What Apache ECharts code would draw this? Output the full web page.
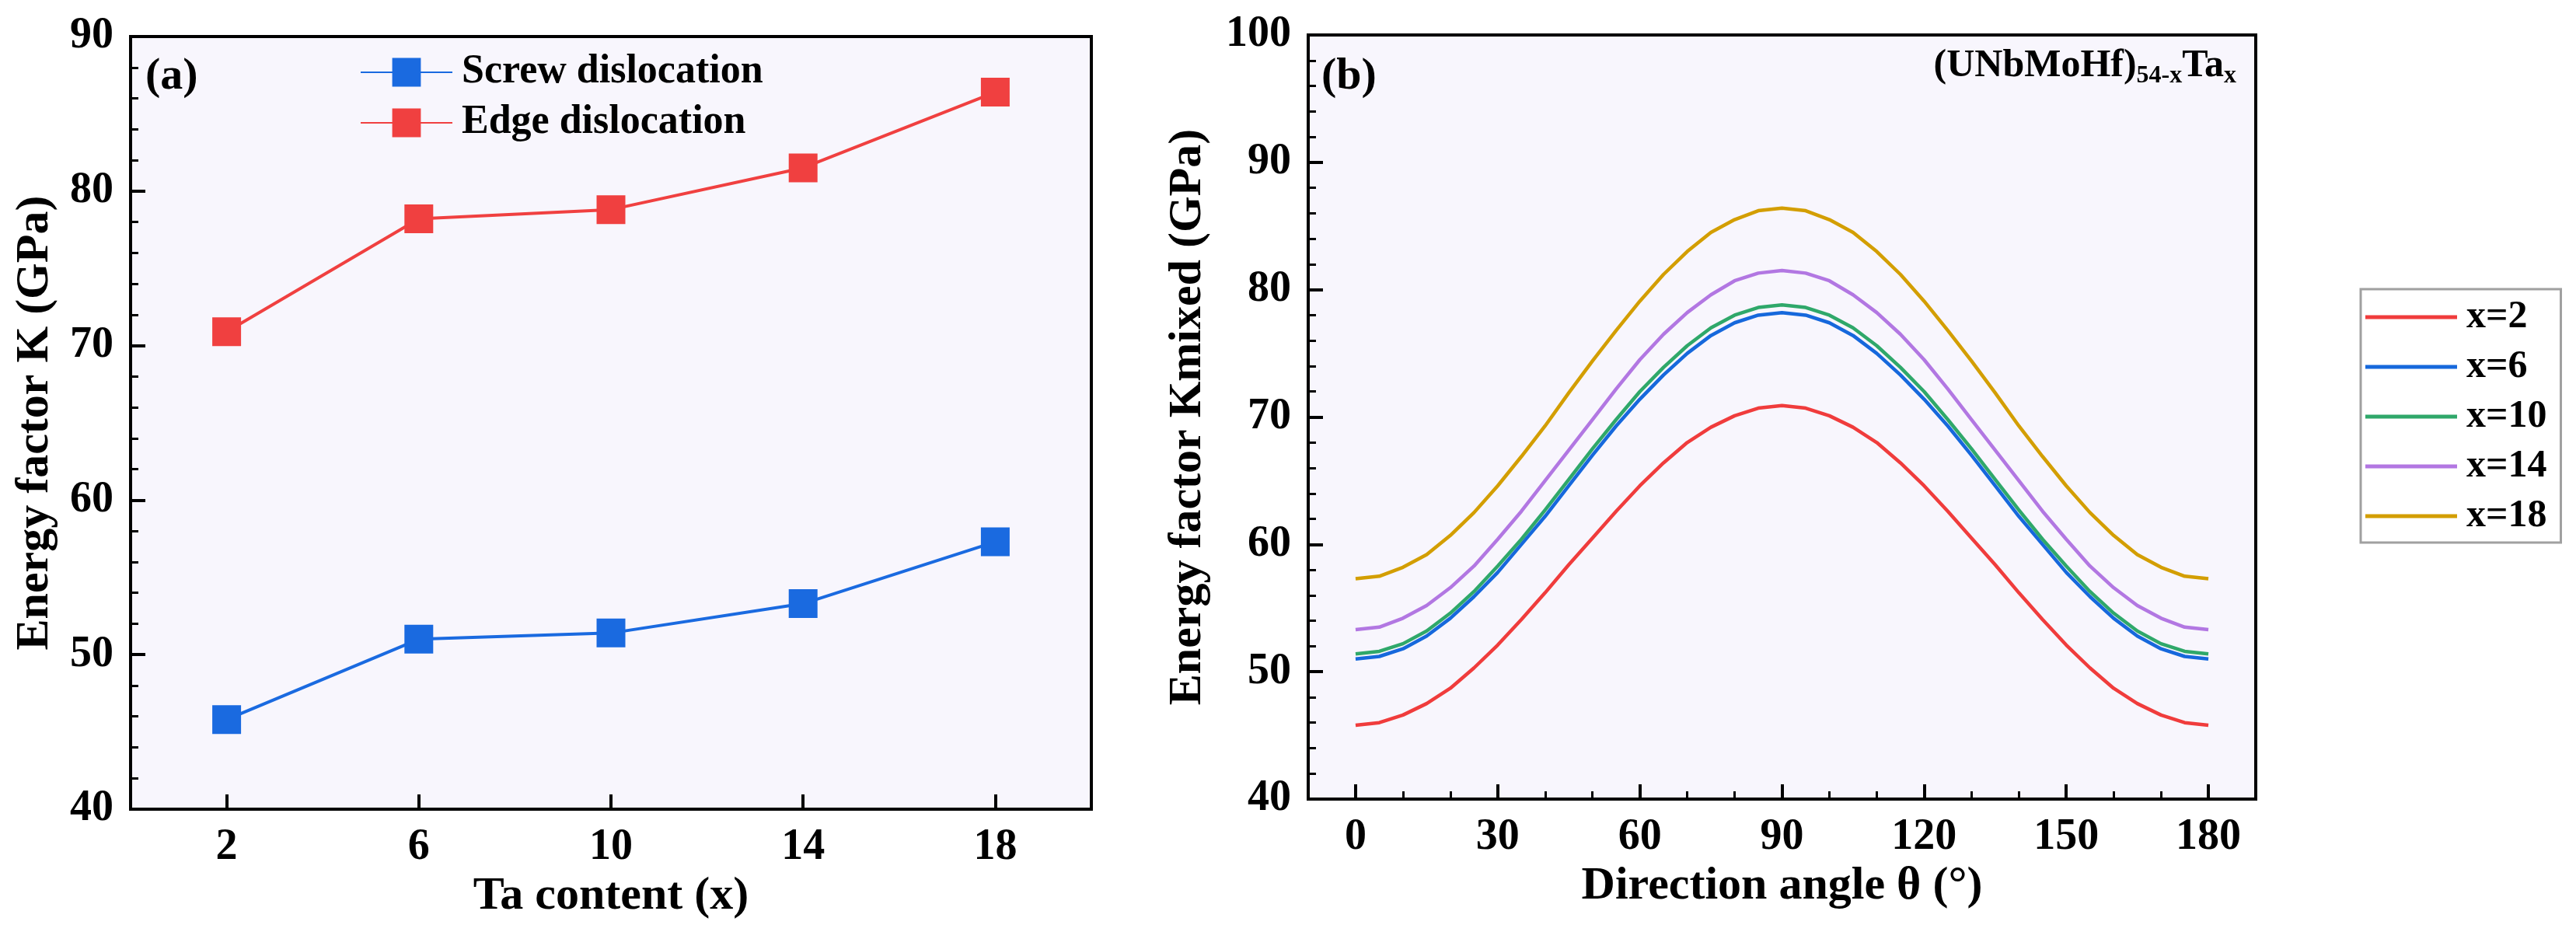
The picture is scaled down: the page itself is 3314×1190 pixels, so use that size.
<!DOCTYPE html>
<html lang="en">
<head>
    <meta charset="UTF-8">
    <title>Energy factor vs Ta content</title>
    <script src="https://cdn.jsdelivr.net/npm/echarts@6/dist/echarts.min.js"></script>
    <style>
        html, body, #chart {
            width: 100%;
            height: 100%;
            padding: 0;
            margin: 0;
            background: #fff;
        }
    </style>
</head>
<body>
<div id="chart"></div>
<script>
    // (a) energy factor K vs Ta content
    var taContent = [2, 6, 10, 14, 18];
    var screwK = [45.8, 51.0, 51.4, 53.3, 57.3];
    var edgeK = [70.9, 78.2, 78.8, 81.5, 86.4];

    // (b) Kmixed vs direction angle, every 5 degrees
    var angles = [0, 5, 10, 15, 20, 25, 30, 35, 40, 45, 50, 55, 60, 65, 70, 75, 80, 85, 90,
        95, 100, 105, 110, 115, 120, 125, 130, 135, 140, 145, 150, 155, 160, 165, 170, 175, 180];
    var kMixedX2 = [45.8, 46.0, 46.6, 47.5, 48.7, 50.3, 52.1, 54.1, 56.2, 58.4, 60.5, 62.6, 64.6, 66.4, 68.0, 69.2, 70.1, 70.7, 70.9,
        70.7, 70.1, 69.2, 68.0, 66.4, 64.6, 62.6, 60.5, 58.4, 56.2, 54.1, 52.1, 50.3, 48.7, 47.5, 46.6, 46.0, 45.8];
    var kMixedX6 = [51.0, 51.2, 51.8, 52.8, 54.2, 55.9, 57.8, 60.0, 62.2, 64.6, 67.0, 69.3, 71.4, 73.3, 75.0, 76.4, 77.4, 78.0, 78.2,
        78.0, 77.4, 76.4, 75.0, 73.3, 71.4, 69.3, 67.0, 64.6, 62.2, 60.0, 57.8, 55.9, 54.2, 52.8, 51.8, 51.2, 51.0];
    var kMixedX10 = [51.4, 51.6, 52.2, 53.2, 54.6, 56.3, 58.3, 60.4, 62.7, 65.1, 67.5, 69.8, 72.0, 73.9, 75.6, 77.0, 78.0, 78.6, 78.8,
        78.6, 78.0, 77.0, 75.6, 73.9, 72.0, 69.8, 67.5, 65.1, 62.7, 60.4, 58.3, 56.3, 54.6, 53.2, 52.2, 51.6, 51.4];
    var kMixedX14 = [53.3, 53.5, 54.2, 55.2, 56.6, 58.3, 60.4, 62.6, 65.0, 67.4, 69.8, 72.2, 74.5, 76.5, 78.2, 79.6, 80.7, 81.3, 81.5,
        81.3, 80.7, 79.6, 78.2, 76.5, 74.5, 72.2, 69.8, 67.4, 65.0, 62.6, 60.4, 58.3, 56.6, 55.2, 54.2, 53.5, 53.3];
    var kMixedX18 = [57.3, 57.5, 58.2, 59.2, 60.7, 62.5, 64.6, 66.9, 69.3, 71.9, 74.4, 76.8, 79.1, 81.2, 83.0, 84.5, 85.5, 86.2, 86.4,
        86.2, 85.5, 84.5, 83.0, 81.2, 79.1, 76.8, 74.4, 71.9, 69.3, 66.9, 64.6, 62.5, 60.7, 59.2, 58.2, 57.5, 57.3];

    var curveNames = ["x=2", "x=6", "x=10", "x=14", "x=18"];
    var curveValues = [kMixedX2, kMixedX6, kMixedX10, kMixedX14, kMixedX18];
    var curveColors = ["#f03c3c", "#1668dc", "#2fa86a", "#b277e2", "#d39e00"];

    var xTicksB = [0, 30, 60, 90, 120, 150, 180];
    var xMinorB = [10, 20, 40, 50, 70, 80, 100, 110, 130, 140, 160, 170];

    var FONT = "'Liberation Serif', 'Times New Roman', serif";

    function pairs(xs, ys) {
        return xs.map(function (x, i) {
            return [x, ys[i]];
        });
    }

    var axisLine = {show: true, onZero: false, lineStyle: {color: "#000", width: 4}};
    var labelStyle = {color: "#000", fontFamily: FONT, fontWeight: "bold", fontSize: 56};
    var nameStyle = {color: "#000", fontFamily: FONT, fontWeight: "bold", fontSize: 60};

    function yAxis(grid, min, max, name, gap) {
        return {
            type: "value", gridIndex: grid, min: min, max: max, interval: 10,
            name: name, nameLocation: "middle", nameGap: gap, nameRotate: 90, nameTextStyle: nameStyle,
            axisLine: axisLine,
            axisTick: {show: true, inside: true, length: 19, lineStyle: {color: "#000", width: 4}},
            minorTick: {show: true, splitNumber: 5, length: 10, lineStyle: {color: "#000", width: 3}},
            axisLabel: Object.assign({margin: 22}, labelStyle),
            splitLine: {show: false}
        };
    }

    var series = [{
        name: "Screw dislocation",
        type: "line",
        xAxisIndex: 0, yAxisIndex: 0,
        data: pairs(taContent, screwK),
        symbol: "rect", symbolSize: 37,
        color: "#1a6ae0",
        lineStyle: {width: 4}
    }, {
        name: "Edge dislocation",
        type: "line",
        xAxisIndex: 0, yAxisIndex: 0,
        data: pairs(taContent, edgeK),
        symbol: "rect", symbolSize: 37,
        color: "#f04040",
        lineStyle: {width: 4}
    }];
    curveNames.forEach(function (n, i) {
        series.push({
            name: n,
            type: "line",
            xAxisIndex: 1, yAxisIndex: 1,
            data: pairs(angles, curveValues[i]),
            showSymbol: false, symbol: "none",
            color: curveColors[i],
            lineStyle: {width: 4.5}
        });
    });

    var chart = echarts.init(document.getElementById("chart"));
    chart.setOption({
        animation: false,
        backgroundColor: "#fff",
        title: [{
            text: "(a)", left: 187, top: 70, padding: 0,
            textStyle: {color: "#000", fontFamily: FONT, fontWeight: "bold", fontSize: 58}
        }, {
            text: "(b)", left: 1700, top: 70, padding: 0,
            textStyle: {color: "#000", fontFamily: FONT, fontWeight: "bold", fontSize: 58}
        }, {
            text: "{m|(UNbMoHf)}{s|54-x}{m|Ta}{s|x}", right: 437, top: 60, padding: 0,
            textStyle: {
                rich: {
                    m: {color: "#000", fontFamily: FONT, fontWeight: "bold", fontSize: 50, lineHeight: 50, verticalAlign: "bottom"},
                    s: {color: "#000", fontFamily: FONT, fontWeight: "bold", fontSize: 32, lineHeight: 50, verticalAlign: "bottom", padding: [0, 0, -4, 0]}
                }
            }
        }],
        legend: [{
            data: ["Screw dislocation", "Edge dislocation"],
            orient: "vertical",
            left: 463, top: 67, padding: 0,
            itemWidth: 118, itemHeight: 46, itemGap: 13,
            textStyle: {color: "#000", fontFamily: FONT, fontWeight: "bold", fontSize: 52, padding: [0, 0, 0, 7]}
        }, {
            data: curveNames,
            orient: "vertical",
            left: 3037, top: 372,
            padding: [11, 18, 9, 6],
            borderColor: "#a0a0a0", borderWidth: 3,
            icon: "rect",
            itemWidth: 118, itemHeight: 5, itemGap: 14,
            textStyle: {color: "#000", fontFamily: FONT, fontWeight: "bold", fontSize: 50, padding: [0, 0, 0, 7]}
        }],
        grid: [{
            left: 168, top: 47, width: 1236, height: 994,
            show: true, backgroundColor: "#f8f6fd", borderColor: "#000", borderWidth: 4
        }, {
            left: 1683, top: 45, width: 1219, height: 983,
            show: true, backgroundColor: "#f8f6fd", borderColor: "#000", borderWidth: 4
        }],
        xAxis: [{
            type: "value", gridIndex: 0, min: 0, max: 20,
            name: "Ta content (x)", nameLocation: "middle", nameGap: 82, nameTextStyle: nameStyle,
            axisLine: axisLine,
            axisTick: {show: true, inside: true, length: 19, customValues: taContent, lineStyle: {color: "#000", width: 4}},
            axisLabel: Object.assign({margin: 22, customValues: taContent}, labelStyle),
            splitLine: {show: false}
        }, {
            type: "value", gridIndex: 1, min: -10, max: 190,
            name: "Direction angle θ (°)", nameLocation: "middle", nameGap: 82, nameTextStyle: nameStyle,
            axisLine: axisLine,
            axisTick: {show: true, inside: true, length: 19, customValues: xTicksB, lineStyle: {color: "#000", width: 4}},
            axisLabel: Object.assign({margin: 22, customValues: xTicksB}, labelStyle),
            splitLine: {show: false}
        }, {
            type: "value", gridIndex: 1, min: -10, max: 190, position: "bottom", offset: 0,
            axisLine: {show: false, onZero: false},
            axisTick: {show: true, inside: true, length: 10, customValues: xMinorB, lineStyle: {color: "#000", width: 3}},
            axisLabel: {show: false},
            splitLine: {show: false}
        }],
        yAxis: [
            yAxis(0, 40, 90, "Energy factor K (GPa)", 93),
            yAxis(1, 40, 100, "Energy factor Kmixed (GPa)", 125)
        ],
        series: series
    });
</script>
</body>
</html>
